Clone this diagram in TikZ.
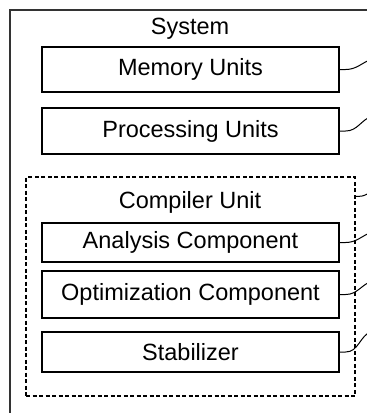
\documentclass[tikz,border=0pt]{standalone}
\usepackage{fontspec}
\setmainfont{Liberation Sans}
\begin{document}
\begin{tikzpicture}[x=1pt, y=-1pt,
    unitbox/.style = {draw, line width=1.3pt, minimum width=297pt, inner sep=0pt},
    leader/.style = {line width=1pt},
    font=\fontsize{23.5}{27}\selectfont]
    \useasboundingbox (0,0) rectangle (367,413);
    \clip (0,0) rectangle (367,413);

    % Outer system frame
    \draw[line width=1.3pt, black!80] (10,440) |- (400,10);
    \node (system) at (190,29) {System};

    % Units
    \node[unitbox, minimum height=45pt] (mem) at (190.5,69.5) {Memory Units};
    \node[unitbox, minimum height=46pt] (proc) at (190.5,131) {Processing Units};

    % Compiler unit with its components
    \node[draw, dash pattern=on 4pt off 2.5pt, line width=1.2pt,
          minimum width=329pt, minimum height=219pt] (compiler) at (190.5,286.5) {};
    \node (complabel) at (190,202) {Compiler Unit};
    \node[unitbox, minimum height=39pt] (analysis) at (190.5,242.5) {Analysis Component};
    \node[unitbox, minimum height=47pt] (optim) at (190.5,294.5) {Optimization Component};
    \node[unitbox, minimum height=40pt] (stab) at (190.5,352) {Stabilizer};

    % Free ends of the leader lines
    \coordinate (memEnd) at (372,59);
    \coordinate (procEnd) at (372,116);
    \coordinate (compEnd) at (372,192);
    \coordinate (anaEnd) at (372,232);
    \coordinate (optEnd) at (372,281);
    \coordinate (stabEnd) at (372,331);
    \coordinate (compOut) at ([yshift=-20pt]compiler.north east);

    % Leader lines
    \draw[leader] (mem.east) -- ++(6,0) to[out=0,in=200] (memEnd);
    \draw[leader] (proc.east) -- ++(6,0) to[out=0,in=200] (procEnd);
    \draw[leader] (compOut) -- ++(3,0) to[out=0,in=200] (compEnd);
    \draw[leader] (analysis.east) -- ++(6,0) to[out=0,in=200] (anaEnd);
    \draw[leader] (optim.east) -- ++(6,0) to[out=0,in=200] (optEnd);
    \draw[leader] (stab.east) -- ++(6,0) to[out=0,in=200] (stabEnd);
\end{tikzpicture}
\end{document}
